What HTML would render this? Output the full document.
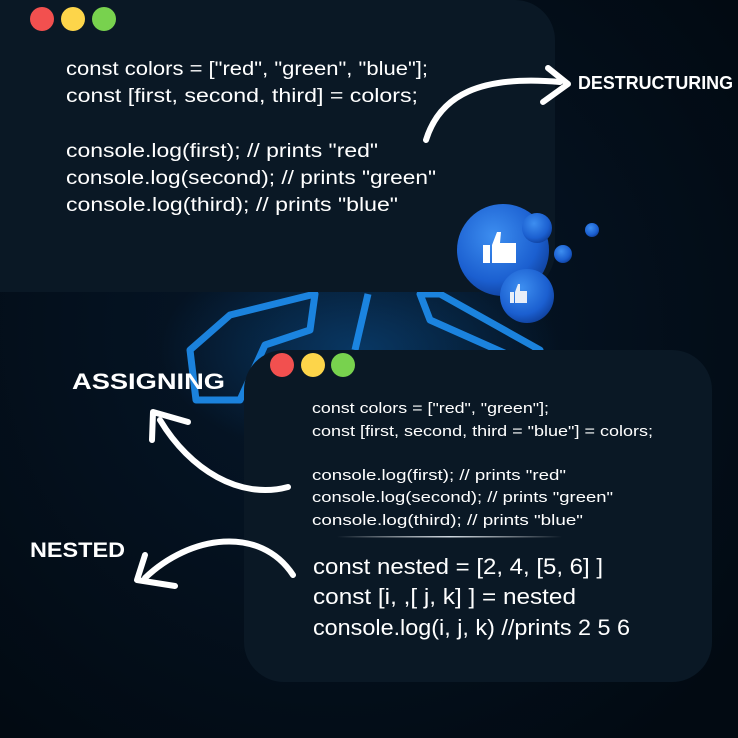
<!DOCTYPE html>
<html><head><meta charset="utf-8"><style>
html,body{margin:0;padding:0;background:#020b14;}
svg{display:block;}
text{font-family:"Liberation Sans",sans-serif;fill:#fff;}
</style></head><body>
<svg width="738" height="738" viewBox="0 0 738 738" xmlns="http://www.w3.org/2000/svg">
<defs>
<radialGradient id="bg" cx="0.45" cy="0.45" r="0.7">
<stop offset="0" stop-color="#06172a"/><stop offset="1" stop-color="#020a12"/></radialGradient>
<radialGradient id="bub" cx="0.4" cy="0.35" r="0.7">
<stop offset="0" stop-color="#3d8ef0"/><stop offset="0.7" stop-color="#1b5fd0"/><stop offset="1" stop-color="#0f3f9a"/></radialGradient>
<radialGradient id="glow" cx="0.5" cy="0.5" r="0.5">
<stop offset="0" stop-color="#0a4d8a" stop-opacity="0.6"/><stop offset="1" stop-color="#0a4d8a" stop-opacity="0"/></radialGradient>
<linearGradient id="div" x1="0" x2="1"><stop offset="0" stop-color="#fff" stop-opacity="0"/><stop offset="0.5" stop-color="#cfd8e0"/><stop offset="1" stop-color="#fff" stop-opacity="0"/></linearGradient>
</defs>
<rect width="738" height="738" fill="url(#bg)"/>
<ellipse cx="360" cy="350" rx="200" ry="110" fill="url(#glow)"/>
<g fill="none" stroke="#1e8ef0" stroke-width="7" stroke-linejoin="round" opacity="0.9">
<path d="M315 294 L310 330 L265 345 L240 400 L196 400 L190 350 L230 315 Z"/>
<path d="M420 294 L440 294 L540 350 L520 360 L430 320 Z"/>
<path d="M368 294 L355 350"/>
</g>
<rect x="-40" y="0" width="595" height="292" rx="40" fill="#0a1825"/>
<circle cx="42" cy="19" r="12" fill="#f2504f"/>
<circle cx="73" cy="19" r="12" fill="#fdd54a"/>
<circle cx="104" cy="19" r="12" fill="#78d24e"/>
<g font-size="19.5" lengthAdjust="spacingAndGlyphs">
<text x="66" y="75" textLength="362" lengthAdjust="spacingAndGlyphs">const colors = ["red", "green", "blue"];</text>
<text x="66" y="102" textLength="352" lengthAdjust="spacingAndGlyphs">const [first, second, third] = colors;</text>
<text x="66" y="157" textLength="312" lengthAdjust="spacingAndGlyphs">console.log(first);  // prints "red"</text>
<text x="66" y="184" textLength="370" lengthAdjust="spacingAndGlyphs">console.log(second);  // prints "green"</text>
<text x="66" y="211" textLength="332" lengthAdjust="spacingAndGlyphs">console.log(third);  // prints "blue"</text>
</g>
<circle cx="503" cy="250" r="46" fill="url(#bub)"/>
<circle cx="537" cy="228" r="15" fill="url(#bub)"/>
<circle cx="527" cy="296" r="27" fill="url(#bub)"/>
<circle cx="563" cy="254" r="9" fill="url(#bub)"/>
<circle cx="592" cy="230" r="7" fill="url(#bub)"/>
<g fill="#fff"><rect x="483" y="245" width="7" height="18"/><path d="M492 245 L497 232 L501 232 L500 243 L516 243 L516 263 L492 263 Z"/></g>
<g fill="#e8eef8"><rect x="510" y="292" width="4" height="11"/><path d="M515 292 L518 284 L520 284 L520 291 L527 291 L527 303 L515 303 Z"/></g>
<path d="M426 140 C440 95 480 75 560 82" fill="none" stroke="#fff" stroke-width="6" stroke-linecap="round"/>
<path d="M548 68 L568 84 L543 102" fill="none" stroke="#fff" stroke-width="6" stroke-linecap="round" stroke-linejoin="round"/>
<text x="578" y="89" font-size="18" font-weight="bold" textLength="155" lengthAdjust="spacingAndGlyphs">DESTRUCTURING</text>
<rect x="244" y="350" width="468" height="332" rx="40" fill="#0a1825"/>
<circle cx="282" cy="365" r="12" fill="#f2504f"/>
<circle cx="313" cy="365" r="12" fill="#fdd54a"/>
<circle cx="343" cy="365" r="12" fill="#78d24e"/>
<g font-size="14.5">
<text x="312" y="413" textLength="237" lengthAdjust="spacingAndGlyphs">const colors = ["red", "green"];</text>
<text x="312" y="436" textLength="341" lengthAdjust="spacingAndGlyphs">const [first, second, third = "blue"] = colors;</text>
<text x="312" y="480" textLength="254" lengthAdjust="spacingAndGlyphs">console.log(first);  // prints "red"</text>
<text x="312" y="502" textLength="301" lengthAdjust="spacingAndGlyphs">console.log(second);  // prints "green"</text>
<text x="312" y="525" textLength="271" lengthAdjust="spacingAndGlyphs">console.log(third);  // prints "blue"</text>
</g>
<rect x="337" y="536" width="225" height="1.5" fill="url(#div)"/>
<g font-size="22.5">
<text x="313" y="574" textLength="290" lengthAdjust="spacingAndGlyphs">const nested = [2, 4, [5, 6] ]</text>
<text x="313" y="604" textLength="263" lengthAdjust="spacingAndGlyphs">const [i, ,[ j, k] ] = nested</text>
<text x="313" y="635" textLength="317" lengthAdjust="spacingAndGlyphs">console.log(i, j, k) //prints 2 5 6</text>
</g>
<text x="72" y="389" font-size="22" font-weight="bold" textLength="153" lengthAdjust="spacingAndGlyphs">ASSIGNING</text>
<path d="M288 487 C240 500 190 470 160 420" fill="none" stroke="#fff" stroke-width="6" stroke-linecap="round"/>
<path d="M152 440 L153 412 L188 422" fill="none" stroke="#fff" stroke-width="6" stroke-linecap="round" stroke-linejoin="round"/>
<text x="30" y="557" font-size="21" font-weight="bold" textLength="95" lengthAdjust="spacingAndGlyphs">NESTED</text>
<path d="M293 575 C260 525 190 535 145 578" fill="none" stroke="#fff" stroke-width="6" stroke-linecap="round"/>
<path d="M145 555 L137 580 L175 586" fill="none" stroke="#fff" stroke-width="6" stroke-linecap="round" stroke-linejoin="round"/>
</svg>
</body></html>
